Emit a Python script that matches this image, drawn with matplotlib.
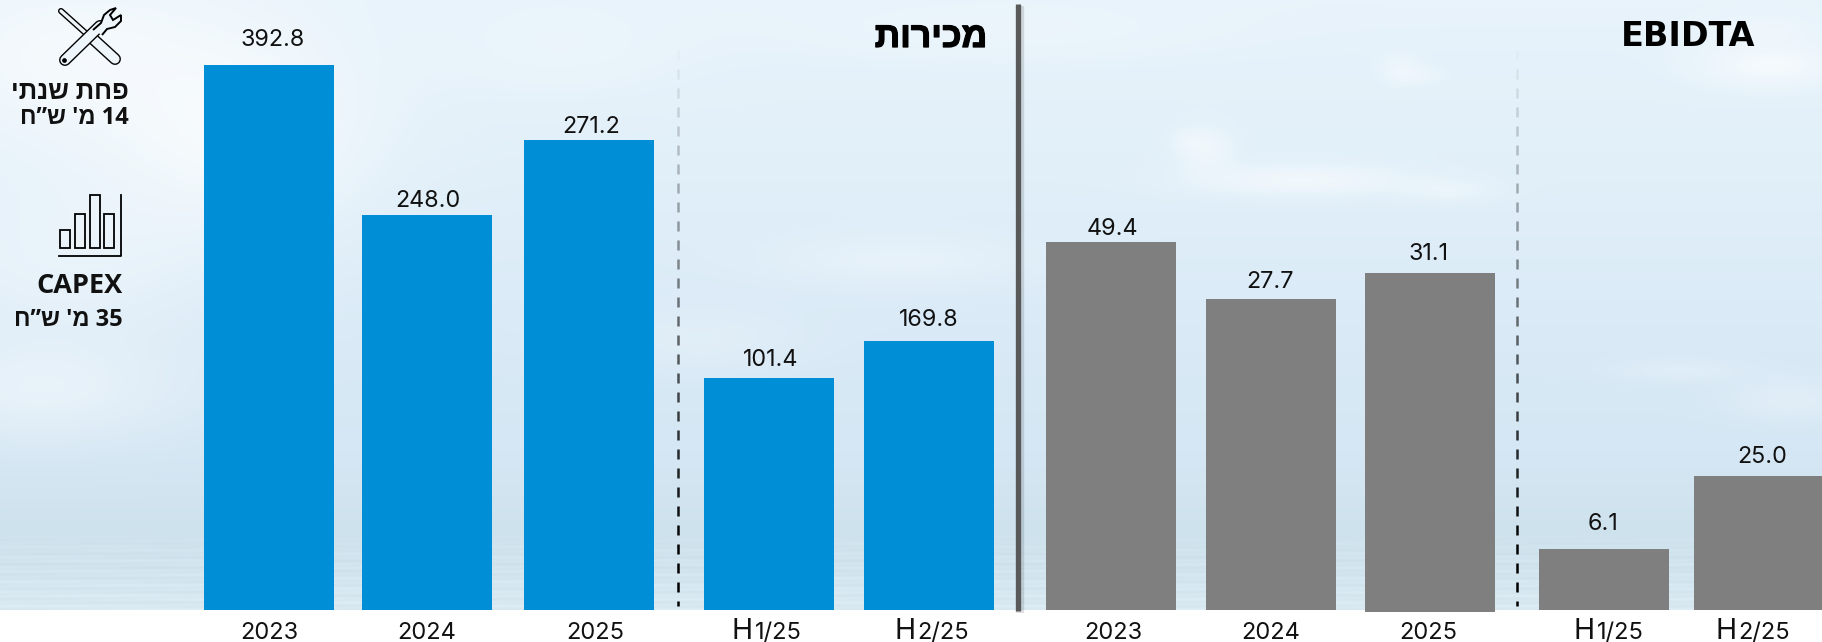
import numpy as np
import matplotlib
matplotlib.use("Agg")
import matplotlib.pyplot as plt
import matplotlib.patheffects as pe
from matplotlib.collections import LineCollection
from matplotlib.patches import Polygon, Rectangle

plt.rcParams['font.family'] = ['Open Sans', 'Liberation Sans', 'DejaVu Sans']
NUM_FONT = ['Inter', 'Open Sans', 'DejaVu Sans']

periods = ["2023", "2024", "2025", "H1/25", "H2/25"]

# printed values, the bars on the slide are not to scale with them
sales_labels = ["392.8", "248.0", "271.2", "101.4", "169.8"]
ebitda_labels = ["49.4", "27.7", "31.1", "6.1", "25.0"]

# bar heights as drawn on the slide
sales_heights = [545, 395, 470, 232.5, 269.5]
ebitda_heights = [368, 311, 337, 61, 134]

W, H, BASE = 1822, 642, 610

# layout in pixels
sales_x = [269, 427, 589, 768.5, 929]
ebitda_x = [1111, 1271, 1430, 1604, 1759]
sales_label_x = [273, 428, 591, 770.5, 928.5]
ebitda_label_x = [1112, 1270, 1429, 1603, 1762]
sales_gap = [19, 8, 7, 12, 14]
ebitda_gap = [7, 11, 13, 19, 13]
sales_tick_x = [269, 427, 595, 770, 933]
ebitda_tick_x = [1113, 1271, 1428, 1612, 1754]
BAR_W = 130


def rtl(s):
    # matplotlib has no bidi, so Hebrew goes in visual order
    return s[::-1]


def py(y):
    return BASE - y


def make_background():
    xx, yy = np.meshgrid(np.arange(W), np.arange(BASE))
    # vertical sky tone
    stops_y = [0, 150, 300, 450, 530, 570, 610]
    stops_r = [232, 226, 219, 213, 206, 210, 218]
    stops_g = [243, 240, 235, 231, 226, 229, 234]
    stops_b = [251, 249, 247, 244, 237, 239, 242]
    img = np.zeros((BASE, W, 3))
    for i, st in enumerate([stops_r, stops_g, stops_b]):
        img[:, :, i] = np.interp(yy, stops_y, st)
    # clouds: x, y, sx, sy, strength
    clouds = [(60, 60, 170, 90, 0.55), (230, 130, 140, 110, 0.65), (60, 260, 150, 90, 0.35),
              (40, 390, 140, 50, 0.4), (560, 50, 120, 50, 0.2), (1300, 180, 110, 16, 0.55),
              (1205, 150, 28, 22, 0.45), (1400, 70, 18, 14, 0.35), (1770, 65, 70, 22, 0.6),
              (1450, 190, 50, 12, 0.3), (900, 260, 130, 25, 0.3), (700, 340, 100, 30, 0.2),
              (1680, 370, 60, 10, 0.2), (1790, 400, 60, 20, 0.25), (1000, 30, 200, 30, 0.2),
              (1420, 75, 22, 8, 0.25), (1190, 140, 20, 10, 0.25), (1760, 30, 60, 15, 0.3)]
    for cx, cy, sx, sy, s in clouds:
        g = s * np.exp(-((xx - cx) / sx) ** 2 - ((yy - cy) / sy) ** 2)
        img = img + (255 - img) * g[:, :, None]
    # water streaks near the horizon
    streak = np.sin(yy * 0.9) * np.sin(xx * 0.013 + yy * 0.37) * np.clip((yy - 530) / 30, 0, 1)
    img = img + 4 * streak[:, :, None]
    return np.clip(img, 0, 255).astype(np.uint8)


def dashes(ax, x):
    segs, cols = [], []
    for y in np.arange(50, 606, 19):
        segs.append([(x, py(y)), (x, py(min(y + 10, 606)))])
        cols.append((0, 0, 0, float(np.clip((y - 40) / 500, 0, 1))))
    ax.add_collection(LineCollection(segs, colors=cols, linewidths=1.8, zorder=2))


def tick_label(ax, x, label):
    if label.startswith("H"):
        # the H is set larger than the rest
        split = x - 17
        ax.text(split, py(639), label[0], fontsize=20.5, ha='right', va='baseline',
                color='#111111', family=NUM_FONT)
        ax.text(split + 1.5, py(639), label[1:], fontsize=17, ha='left', va='baseline',
                color='#111111', family=NUM_FONT)
    else:
        ax.text(x, py(639), label, fontsize=17, ha='center', va='baseline',
                color='#111111', family=NUM_FONT)


def draw_panel(ax, xs, heights, labels, label_x, gaps, tick_x, color, bottoms):
    tops = [h - b for h, b in zip(heights, bottoms)]
    ax.bar(xs, tops, width=BAR_W, bottom=bottoms, color=color, zorder=3)
    for i in range(len(xs)):
        ax.text(label_x[i], heights[i] + gaps[i], labels[i], fontsize=16.8, ha='center',
                va='baseline', color='#111111', zorder=4, family=NUM_FONT)
        tick_label(ax, tick_x[i], periods[i])


def tool_icon(ax):
    bg = '#eff6fb'
    # screwdriver
    ax.plot([61, 90], [py(11), py(37)], color='black', lw=4.4, solid_capstyle='round', zorder=5)
    ax.plot([61, 90], [py(11), py(37)], color=bg, lw=2.4, solid_capstyle='round', zorder=5)
    ax.plot([92, 115], [py(38), py(59)], color='black', lw=8.6, solid_capstyle='round', zorder=5)
    ax.plot([92, 115], [py(38), py(59)], color=bg, lw=6.6, solid_capstyle='round', zorder=5)
    # wrench
    ax.plot([65, 100], [py(60), py(26)], color='black', lw=8.6, solid_capstyle='round', zorder=6)
    ax.plot([65, 100], [py(60), py(26)], color=bg, lw=6.6, solid_capstyle='round', zorder=6)
    head = [(93, 30), (101, 23), (104, 15), (110, 10), (116, 8), (110, 15), (113, 20),
            (121, 15), (121, 21), (115, 27), (107, 29), (102, 35)]
    ax.add_patch(Polygon([(a, py(b)) for a, b in head], closed=False, fc=bg, ec='black', lw=1.4, zorder=7))
    ax.plot([64], [py(60)], 'o', color='black', ms=2.4, zorder=8)


def capex_icon(ax):
    for x0, top in [(60, 230), (74.5, 214), (89.5, 195), (103.5, 214)]:
        ax.add_patch(Rectangle((x0, py(248)), 10, 248 - top, fc='none', ec='black', lw=1.3, zorder=5))
    ax.plot([59, 121, 121], [py(256), py(256), py(195)], color='black', lw=1.3, zorder=5)


fig = plt.figure(figsize=(W / 100, H / 100), dpi=100, facecolor='white')
ax = fig.add_axes([0, 0, 1, 1])
ax.axis('off')

ax.imshow(make_background(), extent=(0, W, 0, BASE), aspect='auto', zorder=0)
ax.set_xlim(0, W)
ax.set_ylim(BASE - H, BASE)

dashes(ax, 678)
dashes(ax, 1517)

draw_panel(ax, sales_x, sales_heights, sales_labels, sales_label_x, sales_gap, sales_tick_x,
           '#008ed6', [0, 0, 0, 0, 0])
draw_panel(ax, ebitda_x, ebitda_heights, ebitda_labels, ebitda_label_x, ebitda_gap, ebitda_tick_x,
           '#7f7f7f', [0, 0, -2, 0, 0])

# divider between the panels, with a soft shadow
ax.plot([1019.5, 1019.5], [py(6), py(613)], color='#000000', alpha=0.12, lw=6, solid_capstyle='butt', zorder=4)
ax.plot([1018, 1018], [py(4), py(611)], color='#595959', lw=3.8, solid_capstyle='butt', zorder=5)

heavy = [pe.withStroke(linewidth=0.9, foreground='black')]
ax.text(987, py(47), rtl("מכירות"), fontsize=25.5, fontweight='bold', ha='right', va='baseline',
        color='black', path_effects=heavy)
ax.text(1755, py(46), "EBIDTA", fontsize=24, fontweight='bold', ha='right', va='baseline',
        color='black', family=['DejaVu Sans'])

tool_icon(ax)
capex_icon(ax)
ax.text(129, py(99), rtl("פחת שנתי"), fontsize=18.5, fontweight='bold', ha='right', va='baseline', color='#111111')
ax.text(129, py(124), rtl("מ' ש”ח") + " 14", fontsize=17, fontweight='bold', ha='right', va='baseline', color='#111111')
ax.text(123, py(293), "CAPEX", fontsize=19.5, fontweight='bold', ha='right', va='baseline', color='#111111')
ax.text(123, py(326), rtl("מ' ש”ח") + " 35", fontsize=17, fontweight='bold', ha='right', va='baseline', color='#111111')

fig.savefig("out.png", dpi=100, facecolor='white')
